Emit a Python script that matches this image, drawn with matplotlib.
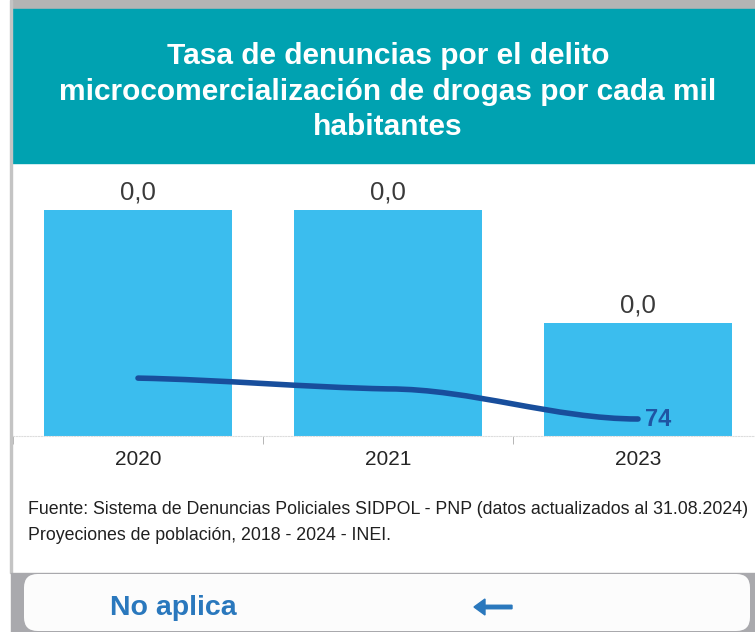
import numpy as np
import matplotlib
matplotlib.use("Agg")
import matplotlib.pyplot as plt
from matplotlib.patches import Rectangle, FancyBboxPatch, FancyArrow, PathPatch
from matplotlib.path import Path

# data
years = ["2020", "2021", "2023"]
tasa = [0.046, 0.046, 0.023]          # bars, shown rounded as "0,0"
denuncias = [252, 205, 74]            # line, only the last value is labelled
title_lines = ["Tasa de denuncias por el delito",
               "microcomercialización de drogas por cada mil",
               "habitantes"]
fuente = ["Fuente: Sistema de Denuncias Policiales SIDPOL - PNP (datos actualizados al 31.08.2024)",
          "Proyeciones de población, 2018 - 2024 - INEI."]

plt.rcParams["font.family"] = ["Liberation Sans", "DejaVu Sans"]

W, H = 755, 632
fig = plt.figure(figsize=(W / 100, H / 100), dpi=100)


def fx(x):
    return x / W


def fy(y):
    return 1 - y / H


# frame pieces
fig.patches.append(Rectangle((fx(11), fy(9)), fx(W - 11), 9 / H, transform=fig.transFigure,
                             color="#b4b4b4", zorder=0))
fig.patches.append(Rectangle((fx(11), fy(163)), fx(W - 11), 154 / H, transform=fig.transFigure,
                             color="#00a2b1", zorder=0))
fig.patches.append(Rectangle((fx(10), fy(573)), fx(1.5), 573 / H, transform=fig.transFigure,
                             color="#c4c4c4", zorder=0))
fig.patches.append(Rectangle((fx(11), 0), fx(W - 11), 59 / H, transform=fig.transFigure,
                             color="#a9a9ad", zorder=0))
fig.patches.append(FancyBboxPatch((fx(24), fy(631)), fx(726), 57 / H,
                                  boxstyle="round,pad=0,rounding_size=0.018",
                                  transform=fig.transFigure, facecolor="#fcfcfc",
                                  edgecolor="none", zorder=1, mutation_aspect=W / H))

for i, line in enumerate(title_lines):
    fig.text(fx(388), fy(56 + 35.5 * i), line, ha="center", va="center", color="white",
             fontsize=21.5, fontweight="bold")

# chart
top, bottom = 170, 436
ax = fig.add_axes([fx(13), fy(bottom), fx(W - 13), (bottom - top) / H])
x = np.arange(len(years))
ax.bar(x, tasa, width=0.752, color="#3bbdee", zorder=2)
ax.set_xlim(-0.5, 2.468)
ax.set_ylim(0, 0.046 * (bottom - top) / 226)
for xi, v in zip(x, tasa):
    ax.text(xi, v + 0.0012, f"{v:.1f}".replace(".", ","), ha="center", va="bottom",
            fontsize=18.5, color="#3a3a3a")
ax.set_xticks(x)
ax.set_xticklabels(years, fontsize=15, color="#252525")
ax.set_xticks([-0.5, 0.5, 1.5], minor=True)
ax.tick_params(axis="x", which="major", length=0, pad=10)
ax.tick_params(axis="x", which="minor", length=6, color="#aaaaaa")
ax.set_yticks([])
for s in ["top", "right", "left"]:
    ax.spines[s].set_visible(False)
ax.spines["bottom"].set_color("#dddddd")
ax.spines["bottom"].set_linestyle((0, (1, 1.5)))
ax.patch.set_alpha(0)

ax2 = ax.twinx()
ax2.set_ylim(0, 74 * (bottom - top) / 17)
ax2.set_yticks([])
for s in ax2.spines.values():
    s.set_visible(False)
# smooth line through the data points (cubic bezier segments)
pts = np.column_stack([x, denuncias]).astype(float)
verts = [tuple(pts[0])]
codes = [Path.MOVETO]
for i in range(len(pts) - 1):
    p0, p1 = pts[i], pts[i + 1]
    d = (p1[0] - p0[0]) / 3
    k = 0.15 if i == 0 else 0.0
    verts += [(p0[0] + d, p0[1] + (p1[1] - p0[1]) * k),
              (p1[0] - d, p1[1] - (p1[1] - p0[1]) * k), tuple(p1)]
    codes += [Path.CURVE4] * 3
ax2.add_patch(PathPatch(Path(verts, codes), facecolor="none", edgecolor="#184e9c",
                        lw=4, capstyle="round", zorder=3))
ax2.text(x[-1] + 0.03, denuncias[-1], str(denuncias[-1]), ha="left", va="center",
         fontsize=17, fontweight="bold", color="#1f55a3")

# footer
for i, line in enumerate(fuente):
    fig.text(fx(28), fy(509 + 27 * i), line, ha="left", va="center", fontsize=12.8,
             color="#202020")

fig.text(fx(110), fy(608), "No aplica", ha="left", va="center", fontsize=20.5,
         fontweight="bold", color="#2a78bd", zorder=3)
fig.patches.append(FancyArrow(fx(512), fy(607), -fx(38), 0,
                              width=3.5 / H, head_width=16 / H,
                              head_length=fx(11), length_includes_head=True,
                              transform=fig.transFigure, color="#2a78bd", zorder=3))

fig.savefig("out.png", dpi=100)
